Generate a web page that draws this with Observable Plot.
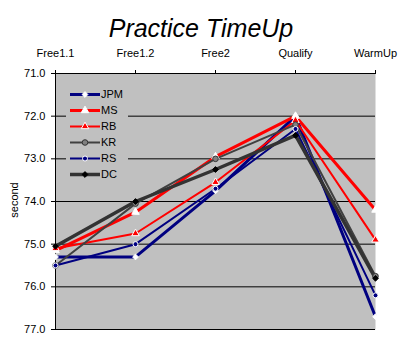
<!DOCTYPE html>
<html>
<head>
<meta charset="utf-8">
<script src="https://cdn.jsdelivr.net/npm/d3@7"></script>
<script src="https://cdn.jsdelivr.net/npm/@observablehq/plot@0.6"></script>
<style>
  body { margin: 0; background: white; }
  #chart { position: relative; width: 403px; height: 354px; }
  svg { font-family: "Liberation Sans", Arial, sans-serif; }
</style>
</head>
<body>
<div id="chart"></div>
<script>
const title = "Practice TimeUp";
const yLabel = "second";
const categories = ["Free1.1", "Free1.2", "Free2", "Qualify", "WarmUp"];
const seriesNames = ["JPM", "MS", "RB", "KR", "RS", "DC"];
const JPM = [75.3, 75.3, 73.75, 72.0, 76.7];
const MS  = [75.15, 74.25, 72.95, 72.0, 74.2];
const RB  = [75.1, 74.75, 73.55, 72.1, 74.9];
const KR  = [75.5, 74.05, 73.0, 72.2, 75.75];
const RS  = [75.5, 75.0, 73.7, 72.3, 76.2];
const DC  = [75.05, 74.0, 73.25, 72.45, 75.8];
const yTicks = [71, 72, 73, 74, 75, 76, 77];

const seriesValues = {JPM, MS, RB, KR, RS, DC};
const styles = {
  JPM: {stroke: "#000080", width: 3,   symbol: "diamond2", fill: "#ffffff", mstroke: "#ffffff", r: 2.6},
  MS:  {stroke: "#ff0000", width: 3,   symbol: "triangle", fill: "#ffffff", mstroke: "#ffffff", r: 2.8},
  RB:  {stroke: "#ff0000", width: 2,   symbol: "triangle", fill: "#ff0000", mstroke: "#ffffff", r: 2.8},
  KR:  {stroke: "#404040", width: 2,   symbol: "circle",   fill: "#808080", mstroke: "#333333", r: 2.8},
  RS:  {stroke: "#000080", width: 2,   symbol: "circle",   fill: "#000080", mstroke: "#ffffff", r: 2.5},
  DC:  {stroke: "#333333", width: 3.5, symbol: "diamond2", fill: "#000000", mstroke: "#000000", r: 2.6}
};

const rows = [];
for (const s of seriesNames) {
  seriesValues[s].forEach((v, i) => rows.push({series: s, cat: categories[i], value: v}));
}

const marks = [
  Plot.frame({fill: "#c0c0c0", stroke: null}),
  Plot.ruleY(yTicks, {stroke: "black", strokeWidth: 1}),
  Plot.ruleX([categories[0]], {stroke: "black", strokeWidth: 1}),
  Plot.axisX({anchor: "top", tickSize: 4, tickPadding: 13, fontSize: 11, label: null}),
  Plot.axisY({anchor: "left", ticks: yTicks, tickSize: 4, tickPadding: 6, tickFormat: d3.format(".1f"), fontSize: 11, label: null})
];
for (const s of seriesNames) {
  const st = styles[s];
  const d = rows.filter(r => r.series === s);
  marks.push(Plot.line(d, {x: "cat", y: "value", stroke: st.stroke, strokeWidth: st.width}));
}
for (const s of seriesNames) {
  const st = styles[s];
  const d = rows.filter(r => r.series === s);
  marks.push(Plot.dot(d, {x: "cat", y: "value", symbol: () => st.symbol, r: st.r, fill: st.fill, stroke: st.mstroke, strokeWidth: 1}));
}

const chart = Plot.plot({
  width: 403,
  height: 354,
  marginTop: 73,
  marginBottom: 25,
  marginLeft: 55,
  marginRight: 28,
  style: {background: "white", color: "black", fontFamily: "Liberation Sans, Arial, sans-serif", fontSize: "11px"},
  x: {type: "point", domain: categories, padding: 0},
  y: {domain: [71, 77], reverse: true},
  marks
});

const svg = d3.select(chart);
svg.append("text")
  .attr("x", 201).attr("y", 37)
  .attr("text-anchor", "middle")
  .attr("font-size", 25)
  .attr("font-style", "italic")
  .attr("fill", "black")
  .text(title);
svg.append("text")
  .attr("transform", "translate(18,200) rotate(-90)")
  .attr("text-anchor", "middle")
  .attr("font-size", 11)
  .attr("fill", "black")
  .text(yLabel);

// legend inside the plot area
const lg = svg.append("g").attr("text-anchor", "start");
lg.append("rect").attr("x", 66).attr("y", 84).attr("width", 62).attr("height", 100).attr("fill", "#c0c0c0");
const symMap = {diamond2: d3.symbolDiamond2, triangle: d3.symbolTriangle, circle: d3.symbolCircle};
seriesNames.forEach((s, i) => {
  const st = styles[s];
  const y = 94.5 + i * 16;
  lg.append("line").attr("x1", 70).attr("x2", 100).attr("y1", y).attr("y2", y)
    .attr("stroke", st.stroke).attr("stroke-width", st.width);
  lg.append("path").attr("d", d3.symbol().type(symMap[st.symbol]).size(Math.PI * st.r * st.r)())
    .attr("transform", `translate(85,${y})`)
    .attr("fill", st.fill).attr("stroke", st.mstroke).attr("stroke-width", 1);
  lg.append("text").attr("x", 101).attr("y", y).attr("dy", "0.35em")
    .attr("text-anchor", "start")
    .attr("font-size", 11).attr("fill", "black").text(s);
});

document.getElementById("chart").appendChild(chart);
</script>
</body>
</html>
